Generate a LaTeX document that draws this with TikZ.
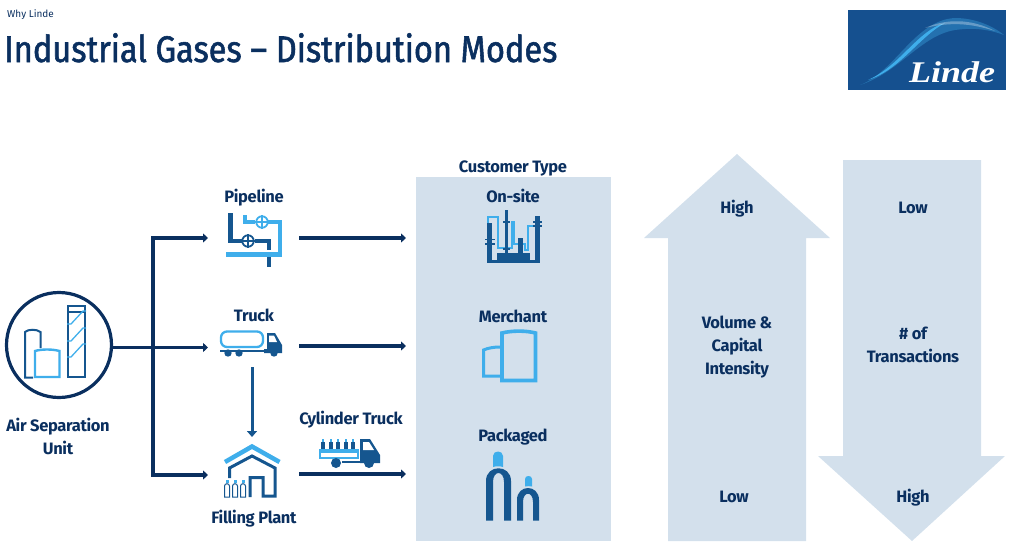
\documentclass[tikz,border=0pt]{standalone}
\usepackage{fontspec}
\setmainfont{Fira Sans}
\newfontfamily\titlefont[FakeStretch=0.88,FakeBold=1.5]{Fira Sans}
\newfontfamily\logofont[FakeStretch=1.2]{Liberation Serif}
\usetikzlibrary{arrows.meta,calc}
\definecolor{navy}{HTML}{0A2F5F}
\definecolor{midblue}{HTML}{15568F}
\definecolor{skyblue}{HTML}{3FAEEB}
\definecolor{panel}{HTML}{D3E0EC}
\definecolor{logoblue}{HTML}{15508F}
\tikzset{
  lbl/.style={font=\fontsize{16.5}{23}\selectfont\addfontfeatures{LetterSpace=-2}\bfseries, text=navy, align=center, inner sep=0pt},
  lbb/.style={lbl, anchor=base},
  conn/.style={draw=navy, line width=3.5pt},
  arr/.style={conn, -{Triangle[length=5pt,width=9pt]}},
  bigarrow/.style={fill=panel, draw=none},
  ring/.style={circle, line width=1.8pt, minimum size=11.5pt, inner sep=0pt},
}
\begin{document}
\begin{tikzpicture}[x=1pt,y=-1pt]
\useasboundingbox (0,0) rectangle (1010,546);
% header
\node[anchor=west, inner sep=0pt, text=navy, font=\fontsize{10}{12}\selectfont] (why) at (7,14.5) {Why Linde};
\node[anchor=base west, inner sep=0pt, text=navy, font=\titlefont\fontsize{37}{40}\selectfont] (title) at (4,62) {Industrial Gases – Distribution Modes};
% logo
\fill[logoblue] (848,10) rectangle (1006,90);
\fill[skyblue!35!logoblue] (860,85) .. controls (895,72) and (915,20) .. (955,18) .. controls (975,18) and (993,26) .. (1004,35) .. controls (985,28) and (970,28) .. (955,30) .. controls (920,36) and (900,72) .. (860,85) -- cycle;
\fill[skyblue] (868,80) .. controls (900,66) and (918,30) .. (945,23) .. controls (920,36) and (900,70) .. (868,80) -- cycle;
\fill[white, opacity=.3] (925,28) .. controls (945,19) and (970,18) .. (995,31) .. controls (970,23) and (950,22) .. (925,28) -- cycle;
\node[anchor=base, inner sep=0pt, text=white, font=\logofont\fontsize{30}{30}\selectfont\itshape\bfseries] (logo) at (952,82) {Linde};
% panels
\fill[panel] (416,177) rectangle (611,541);
\path[bigarrow] (737,154) -- (830,238) -- (806,238) -- (806,541) -- (668,541) -- (668,238) -- (644,238) -- cycle;
\path[bigarrow] (843,160) -- (981,160) -- (981,456) -- (1005,456) -- (912,541) -- (818,456) -- (843,456) -- cycle;
% labels
\node[lbb] (ctype) at (513,172) {Customer Type};
\node[lbb] (onsite) at (513,202) {On-site};
\node[lbb] (merchant) at (513,322) {Merchant};
\node[lbb] (packaged) at (513,441) {Packaged};
\node[lbb] (high1) at (737,213) {High};
\node[lbl] (vol) at (737,347) {Volume \&\\Capital\\Intensity};
\node[lbb] (low1) at (734,502) {Low};
\node[lbb] (low2) at (913,213) {Low};
\node[lbl] (tx) at (913,344.5) {\# of\\Transactions};
\node[lbb] (high2) at (913,502) {High};
\node[lbb] (pipe) at (254,202) {Pipeline};
\node[lbb] (truck) at (254,321) {Truck};
\node[lbb] (cyl) at (351,424) {Cylinder Truck};
\node[lbb] (fill) at (254,523) {Filling Plant};
\node[lbl] (asulbl) at (58,436) {Air Separation\\Unit};
% ASU
\node[circle, draw=navy, line width=3.2pt, minimum size=105pt, inner sep=0pt] (asu) at (59,345) {};
\draw[draw=midblue, line width=2pt] (33,377.5) -- (25,377.5) -- (25,332) .. controls (28,329) and (37,329) .. (40.5,332) -- (40.5,348);
\draw[draw=skyblue, line width=2.4pt] (35,377) -- (35,351) .. controls (42,349) and (52,349) .. (59.5,351) -- (59.5,377) -- cycle;
\draw[draw=midblue, line width=2.6pt] (68,306) rectangle (85,377);
\draw[draw=midblue, line width=2pt] (67,312) -- (86,312);
\foreach \y in {324,341,357} {
  \draw[draw=skyblue, line width=1.3pt] (67,\y) -- (71,\y) -- (83,\y-13) -- (86,\y-13);
}
% trunk and arrows
\coordinate (pa) at (208,238);
\coordinate (ta) at (208,347.5);
\coordinate (fa) at (208,475);
\coordinate (tl) at (153,238);
\coordinate (bl) at (153,475);
\draw[arr] (asu.east |- ta) -- (ta);
\draw[arr] (tl) -- (pa);
\draw[arr] (bl) -- (fa);
\draw[conn, line cap=rect] (tl) -- (bl);
\coordinate (o1) at (299,238); \coordinate (o1e) at (406,238);
\coordinate (o2) at (299,346); \coordinate (o2e) at (406,346);
\coordinate (o3) at (299,474); \coordinate (o3e) at (406,474);
\coordinate (d1) at (252,367); \coordinate (d2) at (252,437);
\draw[arr] (o1) -- (o1e);
\draw[arr] (o2) -- (o2e);
\draw[arr] (o3) -- (o3e);
\draw[draw=midblue, line width=3pt, -{Triangle[length=6pt,width=10pt]}] (d1) -- (d2);
% pipeline icon
\fill[skyblue] (226,252) rectangle (282,257);
\fill[midblue] (267,257) rectangle (271,267);
\draw[draw=midblue, line width=4.5pt] (230.5,213) -- (230.5,241) -- (243,241);
\draw[draw=midblue, line width=4pt] (255,241) -- (268.5,241) -- (268.5,250);
\draw[draw=skyblue, line width=4.5pt] (245,215) -- (245,222) -- (255,222);
\draw[draw=skyblue, line width=4.5pt] (268,222) -- (280,222) -- (280,254);
\node[ring, draw=skyblue] (v1) at (262,222) {};
\draw[skyblue, line width=1.6pt] (v1.north) -- (v1.south) (v1.west) -- (v1.east);
\node[ring, draw=midblue] (v2) at (248,241) {};
\draw[midblue, line width=1.6pt] (v2.north) -- (v2.south) (v2.west) -- (v2.east);
% tanker truck
\draw[draw=skyblue, line width=2.3pt, rounded corners=6pt] (221,331.5) rectangle (263,347);
\fill[midblue] (220,350) rectangle (265,352);
\fill[midblue] (267,333) -- (275,333) -- (282,345) -- (282,353) -- (264,353) -- (264,349) -- (267,349) -- cycle;
\fill[white] (269,335.5) -- (274,335.5) -- (277,342) -- (269,342) -- cycle;
\foreach \x in {228,239,274} \fill[midblue] (\x,353) circle (3.7pt);
% filling plant
\draw[draw=skyblue, line width=4.5pt] (225,462) -- (252,446.5) -- (279.5,462);
\draw[draw=midblue, line width=3pt] (229.5,478) -- (229.5,468) -- (252,456) -- (275,468) -- (275,496) -- (263,496) -- (263,477.5) -- (250,477.5) -- (250,497);
\foreach \x in {227,235,243} {
  \draw[draw=midblue, line width=1pt] (\x-2.5,497) -- (\x-2.5,486) .. controls (\x-2.5,483) and (\x+2.5,483) .. (\x+2.5,486) -- (\x+2.5,497) -- cycle;
  \fill[skyblue] (\x-1.5,480) rectangle (\x+1.5,483);
}
% cylinder truck
\draw[draw=skyblue, line width=2.2pt] (320,450.5) rectangle (358,458);
\fill[skyblue] (319,449) rectangle (359,453);
\foreach \x in {323,331,338,346,353} {
  \fill[midblue] (\x-2,449) rectangle (\x+2,442);
  \fill[skyblue] (\x-1.2,442) rectangle (\x+1.2,439);
}
\fill[midblue] (360,439) -- (370,439) -- (380,455) -- (380,463) -- (360,463) -- cycle;
\fill[white] (363,442) -- (369,442) -- (374,450) -- (363,450) -- cycle;
\fill[midblue] (342,461) rectangle (362,463);
\fill[midblue] (336,463) circle (5pt);
\fill[midblue] (369,463) circle (5pt);
% on-site icon
\draw[draw=skyblue, line width=2pt] (488,223) -- (488,217) -- (498,217) -- (498,248) -- (512,248) -- (512,222) -- (514,222) -- (514,244) -- (525,244) -- (525,250) -- (528,250) -- (528,226) -- (535,226);
\fill[midblue] (487,223) rectangle (492,263);
\fill[midblue] (535,216) rectangle (539.5,263);
\fill[midblue] (487,260) rectangle (539.5,263);
\fill[midblue] (497,253) rectangle (530,263);
\fill[midblue] (505,210) rectangle (507.5,253);
\fill[midblue] (518,238) rectangle (523,253);
\fill[midblue] (485,238.5) rectangle (495,240);
\fill[midblue] (485,243) rectangle (495,244.5);
\fill[midblue] (533,221) rectangle (542,223);
\fill[midblue] (533,225) rectangle (542,227);
\fill[midblue] (503,221) rectangle (509.5,223);
\fill[midblue] (503,248) rectangle (509.5,250);
% merchant icon
\draw[draw=skyblue, line width=3pt] (500,347) .. controls (494,347) and (488,348) .. (483.5,350) -- (483.5,376) -- (500,376);
\draw[draw=skyblue, line width=3.6pt] (502,333) .. controls (512,330.5) and (526,330.5) .. (535.5,333) -- (535.5,380.5) -- (502,380.5) -- cycle;
% packaged icon
\fill[midblue, even odd rule] (486,520.5) -- (486,481) .. controls (486,464) and (511,464) .. (511,481) -- (511,520.5) -- (504,520.5) -- (504,482) .. controls (504,470) and (493,470) .. (493,482) -- (493,520.5) -- cycle;
\fill[skyblue] (493,467) -- (493,456) .. controls (493,450) and (503,450) .. (503,456) -- (503,467) .. controls (500,466) and (496,466) .. (493,467) -- cycle;
\fill[midblue, even odd rule] (517,520.5) -- (517,500) .. controls (517,484) and (539,484) .. (539,500) -- (539,520.5) -- (533,520.5) -- (533,502) .. controls (533,491) and (523,491) .. (523,502) -- (523,520.5) -- cycle;
\fill[skyblue] (525,486.5) -- (525,479) .. controls (525,475) and (532,475) .. (532,479) -- (532,486.5) .. controls (530,486) and (527,486) .. (525,486.5) -- cycle;
\end{tikzpicture}
\end{document}
